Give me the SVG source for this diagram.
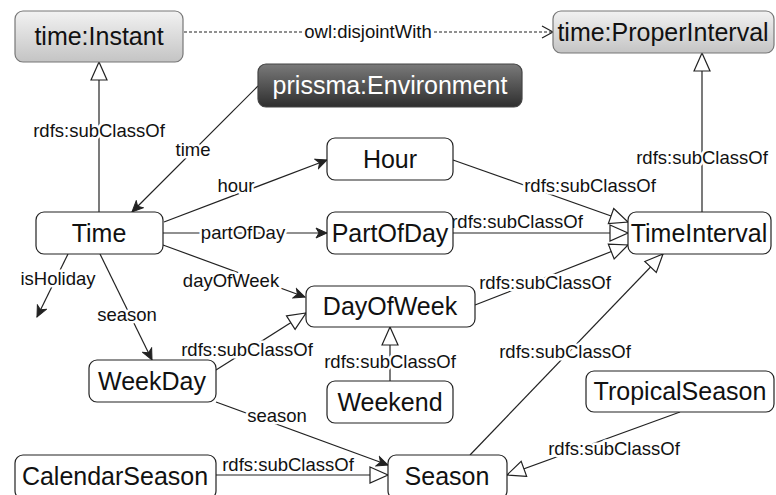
<svg xmlns="http://www.w3.org/2000/svg" width="776" height="495" viewBox="0 0 776 495">
<style>
.n rect{fill:#fff;stroke:#222;stroke-width:1.2}
.n text{font-family:"Liberation Sans",Arial,sans-serif;font-size:25px;text-anchor:middle;fill:#111}
.e line,.e path{stroke:#222;stroke-width:1.2;fill:none}
.e text{font-family:"Liberation Sans",Arial,sans-serif;font-size:18.5px;text-anchor:middle;fill:#111;stroke:#fff;stroke-width:5;paint-order:stroke;stroke-linejoin:round}
.sub{marker-end:url(#tri)}
.prop{marker-end:url(#arr)}
</style>
<defs>
<linearGradient id="gl" x1="0" y1="0" x2="0" y2="1"><stop offset="0" stop-color="#f2f2f2"/><stop offset="1" stop-color="#c4c4c4"/></linearGradient>
<linearGradient id="gd" x1="0" y1="0" x2="0" y2="1"><stop offset="0" stop-color="#7a7a7a"/><stop offset="1" stop-color="#2e2e2e"/></linearGradient>
<marker id="tri" markerUnits="userSpaceOnUse" markerWidth="22" markerHeight="20" refX="19" refY="9" orient="auto"><path d="M1,1 L19,9 L1,17 z" fill="#fff" stroke="#222" stroke-width="1.2"/></marker>
<marker id="arr" markerUnits="userSpaceOnUse" markerWidth="14" markerHeight="12" refX="12" refY="6" orient="auto"><path d="M1,1 L12,6 L1,11 L4,6 z" fill="#222" stroke="#222" stroke-width="1"/></marker>
<marker id="chev" markerUnits="userSpaceOnUse" markerWidth="14" markerHeight="14" refX="12" refY="7" orient="auto"><path d="M1,1 L12,7 L1,13" fill="none" stroke="#222" stroke-width="1.2"/></marker>
</defs>
<g id="edges" class="e">
<line x1="184" y1="32" x2="553" y2="32" stroke-dasharray="3,2" marker-end="url(#chev)"/>
<text x="368" y="38">owl:disjointWith</text>
<line class="sub" x1="99" y1="212" x2="99" y2="62"/>
<text x="99" y="137">rdfs:subClassOf</text>
<line class="sub" x1="702" y1="212" x2="702" y2="53"/>
<text x="702" y="164">rdfs:subClassOf</text>
<line class="prop" x1="258" y1="86" x2="132" y2="212"/>
<text x="193" y="156">time</text>
<line class="prop" x1="164" y1="222" x2="327" y2="160"/>
<text x="236" y="192">hour</text>
<line class="prop" x1="163" y1="233" x2="327" y2="233"/>
<text x="243" y="239">partOfDay</text>
<line class="prop" x1="163" y1="245" x2="305" y2="297"/>
<text x="231" y="287">dayOfWeek</text>
<line class="prop" x1="68" y1="254" x2="37" y2="317"/>
<text x="58" y="285">isHoliday</text>
<line class="prop" x1="100" y1="254" x2="152" y2="360"/>
<text x="127" y="321">season</text>
<line class="sub" x1="216" y1="370" x2="306" y2="313"/>
<text x="247" y="356">rdfs:subClassOf</text>
<line class="sub" x1="390" y1="381" x2="390" y2="327"/>
<text x="390" y="368">rdfs:subClassOf</text>
<line class="prop" x1="216" y1="402" x2="388" y2="465"/>
<text x="277" y="422">season</text>
<line class="sub" x1="216" y1="475" x2="388" y2="475"/>
<text x="288" y="471" style="stroke:none">rdfs:subClassOf</text>
<line class="sub" x1="680" y1="412" x2="507" y2="475"/>
<text x="614" y="455">rdfs:subClassOf</text>
<line class="sub" x1="470" y1="455" x2="663" y2="254"/>
<text x="565" y="358">rdfs:subClassOf</text>
<line class="sub" x1="453" y1="160" x2="628" y2="222"/>
<text x="590" y="192">rdfs:subClassOf</text>
<line class="sub" x1="453" y1="233" x2="628" y2="233"/>
<text x="517" y="228" style="stroke:none">rdfs:subClassOf</text>
<line class="sub" x1="475" y1="305" x2="628" y2="245"/>
<text x="545" y="289">rdfs:subClassOf</text>
</g>
<g id="n-instant" class="n"><rect x="15" y="11" width="168" height="51" rx="8" style="fill:url(#gl);stroke:#777"/><text x="99" y="45">time:Instant</text></g>
<g id="n-properinterval" class="n"><rect x="553" y="11" width="221" height="42" rx="8" style="fill:url(#gl);stroke:#777"/><text x="663" y="41">time:ProperInterval</text></g>
<g id="n-environment" class="n"><rect x="258" y="64" width="264" height="43" rx="8" style="fill:url(#gd);stroke:#444"/><text x="390" y="94" style="fill:#fff">prissma:Environment</text></g>
<g id="n-hour" class="n"><rect x="327" y="138" width="126" height="42" rx="8"/><text x="390" y="168">Hour</text></g>
<g id="n-partofday" class="n"><rect x="327" y="212" width="126" height="42" rx="8"/><text x="390" y="242">PartOfDay</text></g>
<g id="n-time" class="n"><rect x="36" y="212" width="127" height="42" rx="8"/><text x="99" y="242">Time</text></g>
<g id="n-timeinterval" class="n"><rect x="628" y="212" width="143" height="42" rx="8"/><text x="699" y="242">TimeInterval</text></g>
<g id="n-dayofweek" class="n"><rect x="306" y="286" width="169" height="41" rx="8"/><text x="390" y="315">DayOfWeek</text></g>
<g id="n-weekday" class="n"><rect x="89" y="360" width="127" height="42" rx="8"/><text x="152" y="390">WeekDay</text></g>
<g id="n-weekend" class="n"><rect x="327" y="381" width="126" height="42" rx="8"/><text x="390" y="411">Weekend</text></g>
<g id="n-tropicalseason" class="n"><rect x="586" y="371" width="188" height="41" rx="8"/><text x="680" y="400">TropicalSeason</text></g>
<g id="n-calendarseason" class="n"><rect x="15" y="455" width="201" height="44" rx="8"/><text x="115" y="485">CalendarSeason</text></g>
<g id="n-season" class="n"><rect x="388" y="455" width="119" height="44" rx="8"/><text x="447" y="485">Season</text></g>
</svg>
